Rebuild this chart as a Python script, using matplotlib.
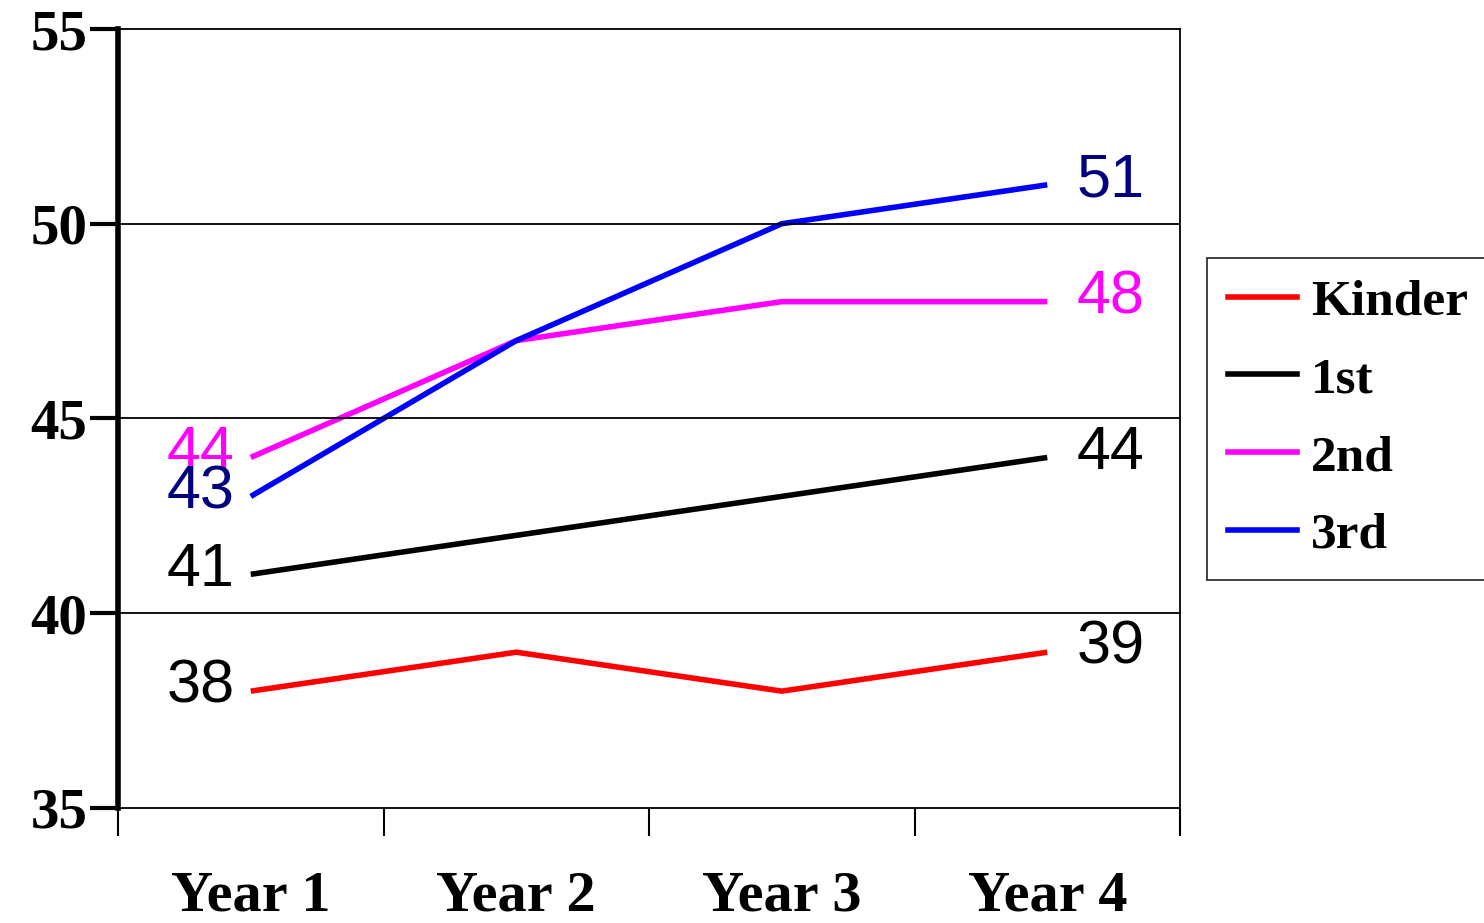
import matplotlib
matplotlib.use("Agg")
import matplotlib.pyplot as plt
from matplotlib.lines import Line2D

categories = ["Year 1", "Year 2", "Year 3", "Year 4"]
series_names = ["Kinder", "1st", "2nd", "3rd"]
kinder = [38, 39, 38, 39]
first = [41, 42, 43, 44]
second = [44, 47, 48, 48]
third = [43, 47, 50, 51]
colors = ["#FF0000", "#000000", "#FF00FF", "#0000FF"]
label_colors = ["#000000", "#000000", "#FF00FF", "#000080"]

W, H = 1484, 923
fig = plt.figure(figsize=(W/100, H/100), dpi=100)
ax = fig.add_axes([118/W, 1-808/H, (1180-118)/W, (808-29)/H])
x = range(len(categories))
data = [kinder, first, second, third]
for vals, c in zip(data, colors):
    ax.plot(x, vals, color=c, lw=4, solid_capstyle="butt")
for vals, lc in zip(data, label_colors):
    ax.text(-0.06, vals[0] + 0.1, str(vals[0]), color=lc, fontsize=44, family="Liberation Sans",
            ha="right", va="center")
    ax.text(3.11, vals[-1] + 0.1, str(vals[-1]), color=lc, fontsize=44, family="Liberation Sans",
            ha="left", va="center")
ax.set_xlim(-0.5, 3.5)
ax.set_ylim(35, 55)
ax.set_yticks([35, 40, 45, 50, 55])
for y in [40, 45, 50]:
    ax.axhline(y, color="black", lw=1.3)
ax.set_xticks([-0.5, 0.5, 1.5, 2.5, 3.5], minor=False)
ax.set_xticklabels([])
ax.set_xticks([0, 1, 2, 3], minor=True)
ax.set_xticklabels(categories, minor=True)
ax.tick_params(axis="x", which="minor", length=0, pad=45)
ax.tick_params(axis="x", which="major", length=20, width=1.5)
ax.tick_params(axis="y", length=20, width=3, pad=2)
for lab in ax.get_xticklabels(minor=True):
    lab.set_family("Liberation Serif"); lab.set_fontweight("bold"); lab.set_fontsize(42)
for lab in ax.get_yticklabels():
    lab.set_family("Liberation Serif"); lab.set_fontweight("bold"); lab.set_fontsize(41)
ax.spines["left"].set_linewidth(4)
for s in ["top", "right", "bottom"]:
    ax.spines[s].set_linewidth(1.3)

handles = [Line2D([0], [0], color=c, lw=4) for c in colors]
leg = fig.legend(handles, series_names, loc="upper left",
                 bbox_to_anchor=(1207/W, 1-258/H), frameon=True, fancybox=False,
                 edgecolor="black", borderpad=0.4, labelspacing=0.6, handlelength=1.35,
                 handletextpad=0.27, borderaxespad=0,
                 prop={"family": "Liberation Serif", "weight": "bold", "size": 37})
leg.get_frame().set_linewidth(1.3)
fig.savefig("out.png", dpi=100)
